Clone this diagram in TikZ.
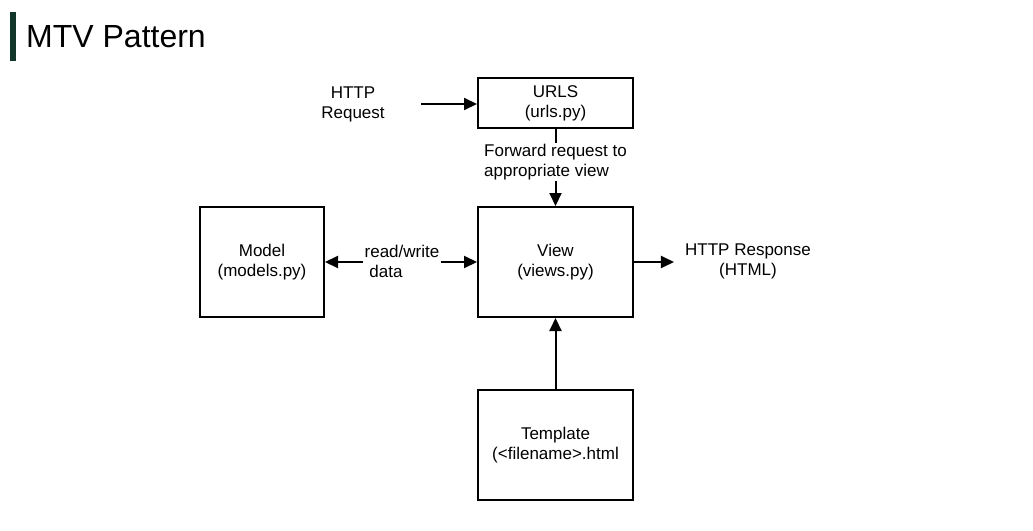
\documentclass[tikz,border=0pt]{standalone}
\usepackage{fontspec}
\setmainfont{Liberation Sans}
\usetikzlibrary{arrows.meta}
\definecolor{titlebar}{HTML}{12352A}

\begin{document}
\begin{tikzpicture}[x=1pt,y=-1pt,
    box/.style={draw=black,line width=2pt,minimum width=155pt,minimum height=110pt,
      align=center,inner sep=0pt,font=\fontsize{17}{20}\selectfont},
    lbl/.style={align=center,inner sep=1pt,font=\fontsize{17}{20}\selectfont},
    conn/.style={line width=2pt,-{Triangle[length=13pt,width=12pt]}}]
  \useasboundingbox (0,0) rectangle (1033,530);
  % title
  \fill[titlebar] (10,12) rectangle (16,61);
  \node[anchor=west,inner sep=0pt,font=\fontsize{32}{38}\selectfont] (title) at (26,37) {MTV Pattern};
  % boxes
  \node[box,minimum height=50pt] (urls) at (555.5,103) {URLS\\(urls.py)};
  \node[box] (view) at (555.5,262) {View\\(views.py)};
  \node[box,minimum width=124pt] (model) at (262,262) {Model\\(models.py)};
  \node[box] (tmpl) at (555.5,445) {Template\\(<filename>.html};
  % labels
  \node[lbl] (req) at (353,104) {HTTP\\Request};
  \node[lbl,align=left] (fwd) at (555.5,162) {Forward request to\\appropriate view};
  \node[lbl,align=left] (rw) at (402,261) {read/write\\\ data};
  \node[lbl] (resp) at (748,261) {HTTP Response\\(HTML)};
  \coordinate (reqout) at (421,104);
  % connectors
  \draw[conn] (reqout) -- (urls.west |- reqout);
  \draw[line width=2pt] (urls.south) -- (fwd.north);
  \draw[conn] (fwd.south) -- (view.north);
  \draw[conn] (rw.west |- model.east) -- (model.east);
  \draw[conn] (rw.east |- view.west) -- (view.west);
  \draw[conn,shorten >=10pt] (view.east) -- (resp.west |- view.east);
  \draw[conn] (tmpl.north) -- (view.south);
\end{tikzpicture}
\end{document}
